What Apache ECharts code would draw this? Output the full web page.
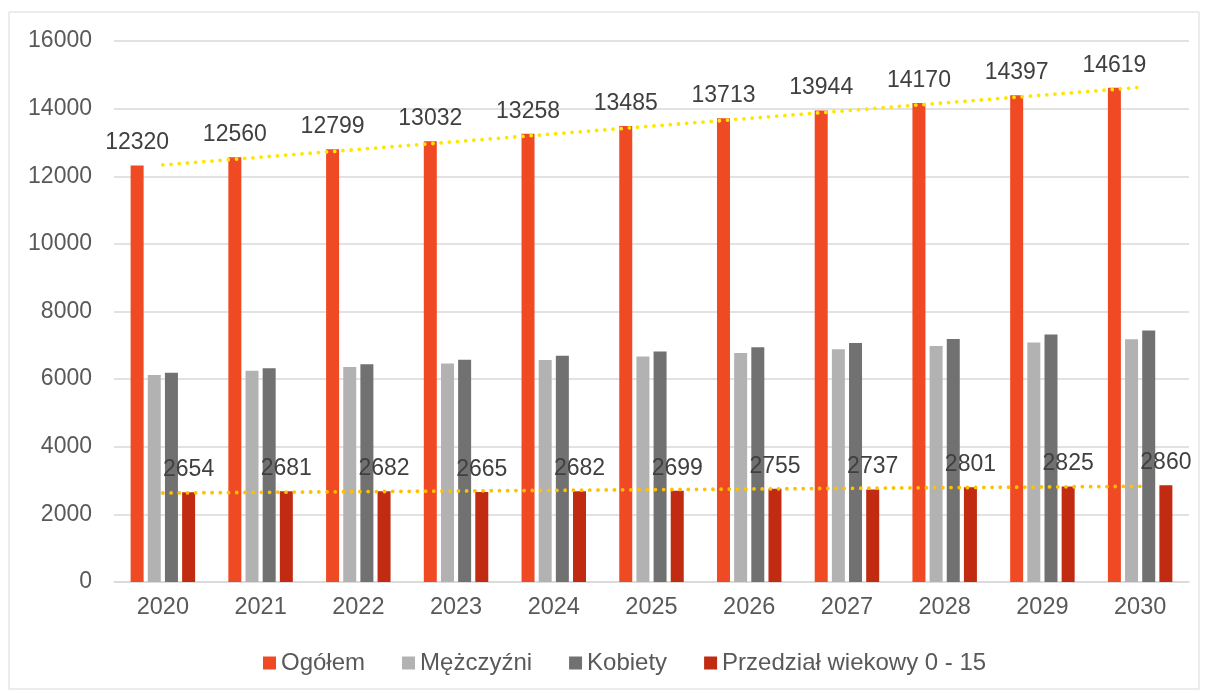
<!DOCTYPE html>
<html>
<head>
<meta charset="utf-8">
<script src="https://cdn.jsdelivr.net/npm/echarts@6/dist/echarts.min.js"></script>
<style>
  html, body { margin: 0; padding: 0; background: #fff; }
  #container { width: 1205px; height: 693px; }
</style>
</head>
<body>
<div id="container"></div>
<script>
  // dane z wykresu
  let years = ['2020', '2021', '2022', '2023', '2024', '2025', '2026', '2027', '2028', '2029', '2030'];
  let ogolem = [12320, 12560, 12799, 13032, 13258, 13485, 13713, 13944, 14170, 14397, 14619];
  let mezczyzni = [6120, 6245, 6355, 6465, 6565, 6670, 6770, 6880, 6980, 7085, 7180];
  let kobiety = [6190, 6320, 6440, 6570, 6690, 6815, 6945, 7070, 7190, 7320, 7440];
  let wiek015 = [2654, 2681, 2682, 2665, 2682, 2699, 2755, 2737, 2801, 2825, 2860];

  // liniowa linia trendu (jak w Excelu) - least squares
  function trend(values) {
    let n = values.length;
    let sx = 0, sy = 0, sxy = 0, sxx = 0;
    values.forEach((v, i) => {
      sx += i; sy += v; sxy += i * v; sxx += i * i;
    });
    let b = (n * sxy - sx * sy) / (n * sxx - sx * sx);
    let a = (sy - b * sx) / n;
    return values.map((v, i) => a + b * i);
  }

  let dom = document.getElementById('container');
  let myChart = echarts.init(dom);

  let labelStyle = {
    show: true,
    position: 'top',
    distance: 11,
    fontSize: 23,
    color: '#404040',
    fontFamily: 'Liberation Sans'
  };

  let dotted = function (color) {
    return {
      color: color,
      width: 3.8,
      type: [0.01, 8.2],
      cap: 'round'
    };
  };

  let option = {
    animation: false,
    textStyle: {fontFamily: 'Liberation Sans'},
    graphic: [{
      type: 'rect',
      shape: {x: 9, y: 12, width: 1190, height: 677},
      style: {fill: 'none', stroke: '#d9d9d9', lineWidth: 1},
      z: -1
    }],
    grid: {left: 114, right: 16, top: 41, bottom: 111},
    legend: {
      bottom: 13,
      left: 258,
      data: ['Ogółem', 'Mężczyźni', 'Kobiety', 'Przedział wiekowy 0 - 15'],
      icon: 'rect',
      itemWidth: 13,
      itemHeight: 13,
      itemGap: 37,
      textStyle: {fontSize: 24, color: '#595959', fontFamily: 'Liberation Sans'}
    },
    xAxis: {
      type: 'category',
      data: years,
      axisTick: {show: false},
      axisLine: {lineStyle: {color: '#d9d9d9', width: 1.5}},
      axisLabel: {fontSize: 23.5, color: '#595959', margin: 14}
    },
    yAxis: {
      type: 'value',
      min: 0,
      max: 16000,
      interval: 2000,
      axisLine: {show: false},
      axisTick: {show: false},
      splitLine: {lineStyle: {color: '#d9d9d9', width: 1.5}},
      axisLabel: {
        fontSize: 23,
        color: '#595959',
        margin: 22,
        formatter: function (v) { return String(v); }
      }
    },
    series: [
      {
        name: 'Ogółem',
        type: 'bar',
        data: ogolem,
        itemStyle: {color: '#F04A24'},
        barWidth: 13,
        barGap: '32%',
        label: labelStyle
      },
      {
        name: 'Mężczyźni',
        type: 'bar',
        data: mezczyzni,
        itemStyle: {color: '#B2B2B2'},
        barWidth: 13,
        barGap: '32%'
      },
      {
        name: 'Kobiety',
        type: 'bar',
        data: kobiety,
        itemStyle: {color: '#717171'},
        barWidth: 13,
        barGap: '32%'
      },
      {
        name: 'Przedział wiekowy 0 - 15',
        type: 'bar',
        data: wiek015,
        itemStyle: {color: '#C02B12'},
        barWidth: 13,
        barGap: '32%',
        label: labelStyle
      },
      {
        name: 'trend ogółem',
        type: 'line',
        data: trend(ogolem),
        showSymbol: false,
        lineStyle: dotted('#FFE600'),
        z: 5
      },
      {
        name: 'trend 0-15',
        type: 'line',
        data: trend(wiek015),
        showSymbol: false,
        lineStyle: dotted('#FFC000'),
        z: 5
      }
    ]
  };

  if (option && typeof option === 'object') {
    myChart.setOption(option, true);
  }
</script>
</body>
</html>
